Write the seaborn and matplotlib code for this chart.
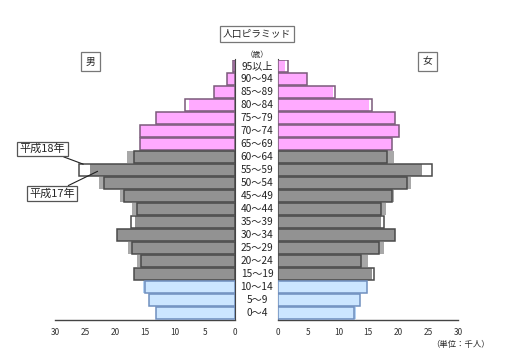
import numpy as np
import pandas as pd
import matplotlib
matplotlib.use('Agg')
import matplotlib.pyplot as plt
import matplotlib.transforms as mtransforms
import seaborn as sns

# age groups, top to bottom
ages = ['95以上', '90～94', '85～89', '80～84', '75～79', '70～74', '65～69',
        '60～64', '55～59', '50～54', '45～49', '40～44', '35～39', '30～34',
        '25～29', '20～24', '15～19', '10～14', '5～9', '0～4']

# male, thousands (H17 = 平成17年, H18 = 平成18年)
male_h17 = [0.4, 1.4, 3.5, 7.7, 13.2, 15.8, 15.8, 18.0, 24.2, 22.6, 19.2, 17.1,
            16.6, 19.7, 17.8, 16.3, 16.9, 15.4, 14.4, 13.2]
male_h18 = [0.4, 1.4, 3.5, 8.3, 13.2, 15.8, 15.8, 16.9, 26.0, 21.8, 18.5, 16.4,
            17.4, 19.7, 17.2, 15.6, 16.9, 15.0, 14.4, 13.1]
# female
female_h17 = [1.2, 4.8, 9.1, 15.2, 19.4, 20.2, 19.0, 19.3, 23.9, 22.1, 19.3, 17.9,
              17.1, 19.4, 17.6, 14.9, 15.6, 14.8, 13.7, 12.9]
female_h18 = [1.6, 4.8, 9.4, 15.7, 19.4, 20.2, 19.0, 18.1, 25.6, 21.4, 18.9, 17.2,
              17.6, 19.4, 16.8, 13.8, 15.9, 14.8, 13.7, 12.7]

groups = ['old'] * 7 + ['work'] * 10 + ['young'] * 3
fill_in = {'old': '#ffaaff', 'work': '#929292', 'young': '#cce6ff'}
fill_out = {'old': '#ffc4ff', 'work': '#a8a8a8', 'young': '#b4d2f2'}
edge = {'old': '#7a5a7a', 'work': '#4a4a4a', 'young': '#6f8fbf'}

sns.set_style('white')
plt.rcParams['font.family'] = ['Noto Sans CJK JP', 'DejaVu Sans']

fig = plt.figure(figsize=(5.10, 3.51), dpi=100)
ax_l = fig.add_axes([55 / 510, 1 - 319.5 / 351, 180 / 510, 260 / 351])
ax_r = fig.add_axes([278.3 / 510, 1 - 319.5 / 351, 180 / 510, 260 / 351])


def draw_side(ax, h17, h18):
    df = pd.DataFrame({'age': ages, 'h17': h17, 'h18': h18, 'grp': groups})
    df['both'] = df[['h17', 'h18']].min(axis=1)
    # white 18 bar underneath
    sns.barplot(data=df, x='h18', y='age', order=ages, orient='h', ax=ax,
                color='white', width=0.85, linewidth=0, zorder=1)
    for g in ['old', 'work', 'young']:
        sub = df[df['grp'] == g]
        sns.barplot(data=sub, x='h17', y='age', order=ages, orient='h', ax=ax,
                    color=fill_out[g], saturation=1, width=0.85, linewidth=0, zorder=2)
        sns.barplot(data=sub, x='both', y='age', order=ages, orient='h', ax=ax,
                    color=fill_in[g], saturation=1, width=0.85, linewidth=0, zorder=3)
        sns.barplot(data=sub, x='h18', y='age', order=ages, orient='h', ax=ax,
                    fill=False, edgecolor=edge[g], width=0.85, linewidth=1.1, zorder=4)
    ax.set_xlim(0, 30)
    ax.set_ylim(len(ages) - 0.5, -0.5)
    ax.set_xticks(range(0, 31, 5))
    ax.set_yticks([])
    ax.set_xlabel('')
    ax.set_ylabel('')
    ax.tick_params(axis='x', direction='in', length=4, width=1, color='#444444',
                   labelsize=6, pad=6, labelcolor='#333333')
    for s in ax.spines.values():
        s.set_visible(False)
    ax.spines['bottom'].set_visible(True)
    ax.spines['bottom'].set_color('#444444')
    ax.spines['bottom'].set_linewidth(1)
    ax.patch.set_alpha(0)


draw_side(ax_l, male_h17, male_h18)
draw_side(ax_r, female_h17, female_h18)
ax_l.set_xlim(30, 0)
ax_l.spines['right'].set_visible(True)
ax_l.spines['right'].set_color('#444444')
ax_r.spines['left'].set_visible(True)
ax_r.spines['left'].set_color('#444444')

# age labels in the middle
tr = mtransforms.blended_transform_factory(fig.transFigure, ax_l.transData)
for i, a in enumerate(ages):
    fig.text(257 / 510, i, a, transform=tr, ha='center', va='center',
             fontsize=7.3, color='#222222')

box = dict(boxstyle='square,pad=0.3', fc='white', ec='#777777', lw=0.9)
fig.text(257 / 510, 1 - 34 / 351, '人口ピラミッド', ha='center', va='center',
         fontsize=7, bbox=box)
fig.text(90.5 / 510, 1 - 61.5 / 351, '男', ha='center', va='center',
         fontsize=7, bbox=dict(boxstyle='square,pad=0.45', fc='white', ec='#777777', lw=0.9))
fig.text(427.5 / 510, 1 - 61.5 / 351, '女', ha='center', va='center',
         fontsize=7, bbox=dict(boxstyle='square,pad=0.45', fc='white', ec='#777777', lw=0.9))
fig.text(257 / 510, 1 - 55 / 351, '（歳）', ha='center', va='center', fontsize=5.5)
fig.text(461 / 510, 1 - 344 / 351, '（単位：千人）', ha='center', va='center', fontsize=6)

ax_l.annotate('平成18年', xy=(25.3, 7.55), xycoords='data',
              xytext=(42.5 / 510, 1 - 149 / 351), textcoords='figure fraction',
              ha='center', va='center', fontsize=8,
              bbox=dict(boxstyle='square,pad=0.2', fc='white', ec='#555555', lw=0.9),
              arrowprops=dict(arrowstyle='-', color='#222222', lw=0.8,
                              shrinkA=0, shrinkB=0), zorder=10)
ax_l.annotate('平成17年', xy=(22.9, 8.1), xycoords='data',
              xytext=(52 / 510, 1 - 193.5 / 351), textcoords='figure fraction',
              ha='center', va='center', fontsize=8,
              bbox=dict(boxstyle='square,pad=0.2', fc='white', ec='#555555', lw=0.9),
              arrowprops=dict(arrowstyle='-', color='#222222', lw=0.8,
                              shrinkA=0, shrinkB=0), zorder=10)

fig.savefig('out.png', dpi=100)
